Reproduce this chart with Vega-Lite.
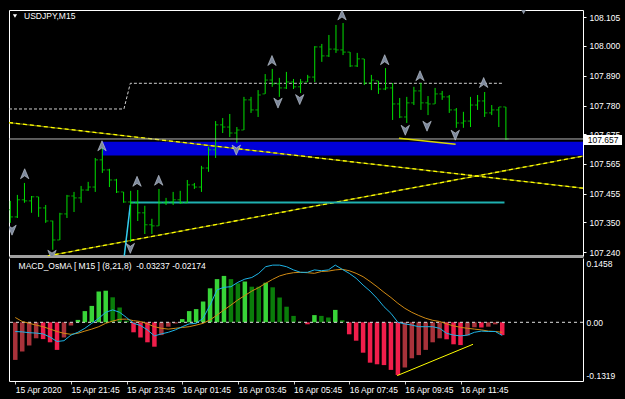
{
  "$schema": "https://vega.github.io/schema/vega-lite/v6.json",
  "background": "#000000",
  "padding": {"left": 7, "top": 10, "right": 12, "bottom": 8},
  "spacing": 2,
  "bounds": "flush",
  "config": {
    "view": {"stroke": null},
    "font": "Liberation Sans",
    "axis": {"grid": false, "title": null, "labelFont": "Liberation Sans", "labelFontSize": 8.5, "labelColor": "#ffffff", "domainColor": "#ffffff", "tickColor": "#ffffff"},
    "text": {"font": "Liberation Sans"}
  },
  "datasets": {
    "ohlc": [
      {"i":0,"o":107.396,"h":107.429,"l":107.348,"c":107.370},
      {"i":1,"o":107.370,"h":107.451,"l":107.366,"c":107.433},
      {"i":2,"o":107.433,"h":107.495,"l":107.422,"c":107.429},
      {"i":3,"o":107.429,"h":107.447,"l":107.385,"c":107.444},
      {"i":4,"o":107.444,"h":107.444,"l":107.370,"c":107.403},
      {"i":5,"o":107.403,"h":107.414,"l":107.348,"c":107.355},
      {"i":6,"o":107.355,"h":107.356,"l":107.249,"c":107.285},
      {"i":7,"o":107.285,"h":107.385,"l":107.285,"c":107.381},
      {"i":8,"o":107.381,"h":107.451,"l":107.366,"c":107.447},
      {"i":9,"o":107.447,"h":107.462,"l":107.388,"c":107.440},
      {"i":10,"o":107.440,"h":107.484,"l":107.422,"c":107.469},
      {"i":11,"o":107.469,"h":107.499,"l":107.466,"c":107.480},
      {"i":12,"o":107.480,"h":107.587,"l":107.462,"c":107.580},
      {"i":13,"o":107.580,"h":107.642,"l":107.532,"c":107.543},
      {"i":14,"o":107.543,"h":107.547,"l":107.480,"c":107.506},
      {"i":15,"o":107.506,"h":107.510,"l":107.458,"c":107.462},
      {"i":16,"o":107.462,"h":107.462,"l":107.422,"c":107.425},
      {"i":17,"o":107.425,"h":107.466,"l":107.278,"c":107.422},
      {"i":18,"o":107.422,"h":107.469,"l":107.355,"c":107.385},
      {"i":19,"o":107.385,"h":107.411,"l":107.307,"c":107.341},
      {"i":20,"o":107.341,"h":107.363,"l":107.307,"c":107.337},
      {"i":21,"o":107.337,"h":107.473,"l":107.337,"c":107.422},
      {"i":22,"o":107.422,"h":107.440,"l":107.414,"c":107.425},
      {"i":23,"o":107.425,"h":107.462,"l":107.414,"c":107.433},
      {"i":24,"o":107.433,"h":107.466,"l":107.418,"c":107.422},
      {"i":25,"o":107.422,"h":107.506,"l":107.422,"c":107.488},
      {"i":26,"o":107.488,"h":107.495,"l":107.473,"c":107.480},
      {"i":27,"o":107.480,"h":107.558,"l":107.462,"c":107.550},
      {"i":28,"o":107.550,"h":107.628,"l":107.536,"c":107.617},
      {"i":29,"o":107.617,"h":107.723,"l":107.587,"c":107.709},
      {"i":30,"o":107.709,"h":107.734,"l":107.679,"c":107.701},
      {"i":31,"o":107.701,"h":107.749,"l":107.664,"c":107.679},
      {"i":32,"o":107.679,"h":107.701,"l":107.642,"c":107.690},
      {"i":33,"o":107.690,"h":107.812,"l":107.690,"c":107.801},
      {"i":34,"o":107.801,"h":107.812,"l":107.753,"c":107.764},
      {"i":35,"o":107.764,"h":107.837,"l":107.738,"c":107.819},
      {"i":36,"o":107.823,"h":107.896,"l":107.823,"c":107.874},
      {"i":37,"o":107.874,"h":107.915,"l":107.849,"c":107.860},
      {"i":38,"o":107.860,"h":107.882,"l":107.812,"c":107.845},
      {"i":39,"o":107.845,"h":107.904,"l":107.841,"c":107.867},
      {"i":40,"o":107.867,"h":107.878,"l":107.841,"c":107.849},
      {"i":41,"o":107.849,"h":107.878,"l":107.826,"c":107.867},
      {"i":42,"o":107.867,"h":107.893,"l":107.867,"c":107.885},
      {"i":43,"o":107.885,"h":107.999,"l":107.867,"c":107.996},
      {"i":44,"o":107.996,"h":108.007,"l":107.941,"c":107.963},
      {"i":45,"o":107.963,"h":108.040,"l":107.959,"c":107.988},
      {"i":46,"o":107.988,"h":108.077,"l":107.974,"c":107.985},
      {"i":47,"o":107.985,"h":108.084,"l":107.966,"c":107.977},
      {"i":48,"o":107.977,"h":107.977,"l":107.922,"c":107.926},
      {"i":49,"o":107.926,"h":107.974,"l":107.922,"c":107.952},
      {"i":50,"o":107.952,"h":107.952,"l":107.856,"c":107.863},
      {"i":51,"o":107.863,"h":107.893,"l":107.837,"c":107.874},
      {"i":52,"o":107.871,"h":107.871,"l":107.823,"c":107.841},
      {"i":53,"o":107.841,"h":107.918,"l":107.837,"c":107.845},
      {"i":54,"o":107.845,"h":107.863,"l":107.727,"c":107.786},
      {"i":55,"o":107.786,"h":107.808,"l":107.734,"c":107.738},
      {"i":56,"o":107.738,"h":107.812,"l":107.716,"c":107.790},
      {"i":57,"o":107.790,"h":107.849,"l":107.782,"c":107.834},
      {"i":58,"o":107.834,"h":107.863,"l":107.764,"c":107.790},
      {"i":59,"o":107.790,"h":107.815,"l":107.745,"c":107.786},
      {"i":60,"o":107.786,"h":107.845,"l":107.786,"c":107.823},
      {"i":61,"o":107.823,"h":107.834,"l":107.801,"c":107.812},
      {"i":62,"o":107.812,"h":107.819,"l":107.753,"c":107.764},
      {"i":63,"o":107.764,"h":107.771,"l":107.698,"c":107.716},
      {"i":64,"o":107.716,"h":107.757,"l":107.698,"c":107.723},
      {"i":65,"o":107.723,"h":107.812,"l":107.701,"c":107.782},
      {"i":66,"o":107.782,"h":107.819,"l":107.764,"c":107.797},
      {"i":67,"o":107.797,"h":107.830,"l":107.738,"c":107.753},
      {"i":68,"o":107.753,"h":107.782,"l":107.745,"c":107.764},
      {"i":69,"o":107.764,"h":107.775,"l":107.701,"c":107.775},
      {"i":70,"o":107.775,"h":107.775,"l":107.653,"c":107.657}
    ],
    "macd": [
      {"i":0,"h":-0.094,"k":"dnw","m":-0.023,"s":0.012},
      {"i":1,"h":-0.073,"k":"dnw","m":-0.024,"s":0.002},
      {"i":2,"h":-0.058,"k":"dnw","m":-0.026,"s":-0.0025},
      {"i":3,"h":-0.040,"k":"dnw","m":-0.027,"s":-0.007},
      {"i":4,"h":-0.042,"k":"dn","m":-0.029,"s":-0.011},
      {"i":5,"h":-0.050,"k":"dn","m":-0.037,"s":-0.017},
      {"i":6,"h":-0.069,"k":"dn","m":-0.048,"s":-0.023},
      {"i":7,"h":-0.038,"k":"dnw","m":-0.046,"s":-0.0275},
      {"i":8,"h":-0.008,"k":"dnw","m":-0.032,"s":-0.030},
      {"i":9,"h":0.006,"k":"up","m":-0.025,"s":-0.0275},
      {"i":10,"h":0.028,"k":"up","m":-0.015,"s":-0.022},
      {"i":11,"h":0.041,"k":"up","m":-0.0025,"s":-0.017},
      {"i":12,"h":0.077,"k":"up","m":0.010,"s":-0.011},
      {"i":13,"h":0.079,"k":"up","m":0.025,"s":-0.0025},
      {"i":14,"h":0.0625,"k":"upw","m":0.031,"s":0.003},
      {"i":15,"h":0.037,"k":"upw","m":0.025,"s":0.0075},
      {"i":16,"h":0.004,"k":"upw","m":0.012,"s":0.008},
      {"i":17,"h":-0.025,"k":"dn","m":-0.0025,"s":0.004},
      {"i":18,"h":-0.038,"k":"dn","m":-0.008,"s":0.002},
      {"i":19,"h":-0.050,"k":"dn","m":-0.019,"s":-0.004},
      {"i":20,"h":-0.061,"k":"dn","m":-0.034,"s":-0.011},
      {"i":21,"h":-0.032,"k":"dnw","m":-0.029,"s":-0.015},
      {"i":22,"h":-0.011,"k":"dnw","m":-0.025,"s":-0.017},
      {"i":23,"h":-0.003,"k":"dnw","m":-0.019,"s":-0.015},
      {"i":24,"h":0.008,"k":"up","m":-0.011,"s":-0.013},
      {"i":25,"h":0.028,"k":"up","m":-0.004,"s":-0.011},
      {"i":26,"h":0.033,"k":"up","m":-0.0025,"s":-0.007},
      {"i":27,"h":0.052,"k":"up","m":0.010,"s":-0.0025},
      {"i":28,"h":0.085,"k":"up","m":0.043,"s":0.006},
      {"i":29,"h":0.108,"k":"up","m":0.081,"s":0.018},
      {"i":30,"h":0.116,"k":"up","m":0.0875,"s":0.031},
      {"i":31,"h":0.108,"k":"upw","m":0.089,"s":0.043},
      {"i":32,"h":0.0975,"k":"upw","m":0.100,"s":0.056},
      {"i":33,"h":0.102,"k":"up","m":0.108,"s":0.067},
      {"i":34,"h":0.089,"k":"upw","m":0.112,"s":0.078},
      {"i":35,"h":0.089,"k":"upw","m":0.1225,"s":0.087},
      {"i":36,"h":0.099,"k":"up","m":0.139,"s":0.0975},
      {"i":37,"h":0.0875,"k":"upw","m":0.143,"s":0.1075},
      {"i":38,"h":0.062,"k":"upw","m":0.143,"s":0.116},
      {"i":39,"h":0.039,"k":"upw","m":0.139,"s":0.121},
      {"i":40,"h":0.016,"k":"upw","m":0.131,"s":0.124},
      {"i":41,"h":0.002,"k":"upw","m":0.125,"s":0.125},
      {"i":42,"h":-0.005,"k":"dn","m":0.125,"s":0.124},
      {"i":43,"h":0.018,"k":"up","m":0.131,"s":0.1225},
      {"i":44,"h":0.016,"k":"upw","m":0.129,"s":0.127},
      {"i":45,"h":0.012,"k":"upw","m":0.131,"s":0.128},
      {"i":46,"h":0.031,"k":"up","m":0.143,"s":0.131},
      {"i":47,"h":0.005,"k":"upw","m":0.1325,"s":0.1325},
      {"i":48,"h":-0.030,"k":"dn","m":0.1225,"s":0.129},
      {"i":49,"h":-0.046,"k":"dn","m":0.110,"s":0.1225},
      {"i":50,"h":-0.076,"k":"dn","m":0.093,"s":0.114},
      {"i":51,"h":-0.101,"k":"dn","m":0.078,"s":0.102},
      {"i":52,"h":-0.105,"k":"dn","m":0.060,"s":0.089},
      {"i":53,"h":-0.107,"k":"dn","m":0.039,"s":0.075},
      {"i":54,"h":-0.119,"k":"dn","m":0.0225,"s":0.062},
      {"i":55,"h":-0.132,"k":"dn","m":0.000,"s":0.0475},
      {"i":56,"h":-0.113,"k":"dnw","m":-0.004,"s":0.035},
      {"i":57,"h":-0.090,"k":"dnw","m":-0.007,"s":0.025},
      {"i":58,"h":-0.082,"k":"dnw","m":-0.011,"s":0.017},
      {"i":59,"h":-0.069,"k":"dnw","m":-0.011,"s":0.010},
      {"i":60,"h":-0.050,"k":"dnw","m":-0.011,"s":0.005},
      {"i":61,"h":-0.040,"k":"dnw","m":-0.015,"s":0.002},
      {"i":62,"h":-0.0425,"k":"dn","m":-0.0275,"s":-0.004},
      {"i":63,"h":-0.055,"k":"dn","m":-0.032,"s":-0.009},
      {"i":64,"h":-0.057,"k":"dn","m":-0.034,"s":-0.0125},
      {"i":65,"h":-0.033,"k":"dnw","m":-0.032,"s":-0.015},
      {"i":66,"h":-0.0125,"k":"dnw","m":-0.025,"s":-0.017},
      {"i":67,"h":-0.013,"k":"dn","m":-0.022,"s":-0.019},
      {"i":68,"h":-0.011,"k":"dnw","m":-0.023,"s":-0.022},
      {"i":69,"h":-0.005,"k":"dnw","m":-0.023,"s":-0.023},
      {"i":70,"h":-0.032,"k":"dn","m":-0.033,"s":-0.025}
    ],
    "fractals": [
      {"i":2.03,"p":107.528,"d":"up"},
      {"i":12.95,"p":107.631,"d":"up"},
      {"i":17.9,"p":107.500,"d":"up"},
      {"i":20.96,"p":107.504,"d":"up"},
      {"i":36.96,"p":107.945,"d":"up"},
      {"i":46.85,"p":108.113,"d":"up"},
      {"i":52.88,"p":107.948,"d":"up"},
      {"i":57.87,"p":107.889,"d":"up"},
      {"i":66.86,"p":107.864,"d":"up"},
      {"i":0.24,"p":107.322,"d":"down"},
      {"i":5.89,"p":107.230,"d":"down"},
      {"i":16.95,"p":107.255,"d":"down"},
      {"i":31.92,"p":107.617,"d":"down"},
      {"i":37.81,"p":107.790,"d":"down"},
      {"i":40.88,"p":107.803,"d":"down"},
      {"i":55.79,"p":107.690,"d":"down"},
      {"i":58.86,"p":107.705,"d":"down"},
      {"i":62.85,"p":107.672,"d":"down"}
    ],
    "ydots": [
      {"g":"a","i":-0.184,"p":107.7175},
      {"g":"a","i":80.89,"p":107.4757},
      {"g":"b","i":5.3,"p":107.2265},
      {"g":"b","i":80.89,"p":107.5938}
    ],
    "step": [
      {"i":-0.184,"p":107.7675},
      {"i":16.05,"p":107.7675},
      {"i":16.95,"p":107.8621},
      {"i":69.7,"p":107.8621}
    ]
  },
  "vconcat": [
    {
      "width": 574,
      "height": 246,
      "layer": [
        {
          "layer": [
            {
              "data": {"values": [{"a": 12.95, "b": 80.89, "lo": 107.596, "hi": 107.647}]},
              "mark": {"type": "rect", "color": "#0000d8", "clip": true},
              "encoding": {
                "x": {"field": "a", "type": "quantitative", "scale": {"domain": [-0.184, 80.89], "nice": false, "zero": false},
                      "axis": {"orient": "bottom", "labels": false, "ticks": false, "domainColor": "#a0a0a0", "domainWidth": 3}},
                "x2": {"field": "b"},
                "y": {"field": "lo", "type": "quantitative", "scale": {"domain": [107.226, 108.132], "nice": false, "zero": false},
                      "axis": {"orient": "right", "values": [107.24, 107.35, 107.455, 107.565, 107.675, 107.78, 107.89, 108.0, 108.105], "tickCount": 30, "format": ".3f", "labelOverlap": false, "tickSize": 3, "labelPadding": 3, "labelColor": "#ffffff", "domainColor": "#ffffff", "tickColor": "#ffffff"}},
                "y2": {"field": "hi"}
              }
            },
            {
              "data": {"name": "step"},
              "mark": {"type": "line", "color": "#d0d0d0", "strokeWidth": 1, "strokeDash": [3, 2], "clip": true},
              "encoding": {"x": {"field": "i", "type": "quantitative"}, "y": {"field": "p", "type": "quantitative"}}
            },
            {
              "data": {"name": "ydots"},
              "mark": {"type": "line", "color": "#707000", "strokeWidth": 1.3, "clip": true},
              "encoding": {"x": {"field": "i", "type": "quantitative"}, "y": {"field": "p", "type": "quantitative"}, "detail": {"field": "g"}}
            },
            {
              "data": {"name": "ydots"},
              "mark": {"type": "line", "color": "#ffff00", "strokeWidth": 1.3, "strokeDash": [4, 3], "clip": true},
              "encoding": {"x": {"field": "i", "type": "quantitative"}, "y": {"field": "p", "type": "quantitative"}, "detail": {"field": "g"}}
            },
            {
              "data": {"values": [{"i": 16.95, "p": 107.4226}, {"i": 69.8, "p": 107.4226}]},
              "mark": {"type": "line", "color": "#1fb0b0", "strokeWidth": 2, "clip": true},
              "encoding": {"x": {"field": "i", "type": "quantitative"}, "y": {"field": "p", "type": "quantitative"}}
            },
            {
              "data": {"values": [{"i": 16.1, "p": 107.2265}, {"i": 16.95, "p": 107.414}]},
              "mark": {"type": "line", "color": "#33ccee", "strokeWidth": 1.5, "clip": true},
              "encoding": {"x": {"field": "i", "type": "quantitative"}, "y": {"field": "p", "type": "quantitative"}}
            },
            {
              "data": {"name": "ohlc"},
              "mark": {"type": "rule", "color": "#00e000", "strokeWidth": 1, "clip": true},
              "encoding": {"x": {"field": "i", "type": "quantitative"}, "y": {"field": "l", "type": "quantitative"}, "y2": {"field": "h"}}
            },
            {
              "data": {"name": "ohlc"},
              "mark": {"type": "tick", "orient": "horizontal", "color": "#00e000", "size": 2.5, "thickness": 1, "xOffset": -1.5, "clip": true},
              "encoding": {"x": {"field": "i", "type": "quantitative"}, "y": {"field": "o", "type": "quantitative"}}
            },
            {
              "data": {"name": "ohlc"},
              "mark": {"type": "tick", "orient": "horizontal", "color": "#00e000", "size": 2.5, "thickness": 1, "xOffset": 1.5, "clip": true},
              "encoding": {"x": {"field": "i", "type": "quantitative"}, "y": {"field": "c", "type": "quantitative"}}
            },
            {
              "data": {"values": [{"p": 107.657}]},
              "mark": {"type": "rule", "color": "#b4b4b4", "strokeWidth": 1},
              "encoding": {"y": {"field": "p", "type": "quantitative"}}
            },
            {
              "data": {"values": [{"i": 54.9, "p": 107.6597}, {"i": 62.9, "p": 107.6376}]},
              "mark": {"type": "line", "color": "#d8d800", "strokeWidth": 1.5, "clip": true},
              "encoding": {"x": {"field": "i", "type": "quantitative"}, "y": {"field": "p", "type": "quantitative"}}
            },
            {
              "data": {"name": "fractals"},
              "mark": {"type": "point", "filled": true, "size": 110, "color": "#7d889b", "stroke": "#c8d0dc", "strokeWidth": 0.6, "opacity": 1, "clip": true},
              "encoding": {
                "x": {"field": "i", "type": "quantitative"},
                "y": {"field": "p", "type": "quantitative"},
                "shape": {"field": "d", "type": "nominal", "scale": {"domain": ["up", "down"], "range": ["M0,-1L0.8,0.9L0,0.35L-0.8,0.9Z", "M0,1L0.8,-0.9L0,-0.35L-0.8,-0.9Z"]}, "legend": null}
              }
            },
            {
              "data": {"values": [{"i": 72.5, "p": 108.126}]},
              "mark": {"type": "point", "shape": "triangle-down", "filled": true, "size": 35, "color": "#8a94a4", "opacity": 1, "clip": true},
              "encoding": {"x": {"field": "i", "type": "quantitative"}, "y": {"field": "p", "type": "quantitative"}}
            },
            {
              "data": {"values": [{"i": 0.66, "p": 108.110}]},
              "mark": {"type": "point", "shape": "triangle-down", "filled": true, "size": 18, "color": "#ffffff", "opacity": 1},
              "encoding": {"x": {"field": "i", "type": "quantitative"}, "y": {"field": "p", "type": "quantitative"}}
            },
            {
              "data": {"values": [{"i": 1.94, "p": 108.110, "t": "USDJPY,M15"}]},
              "mark": {"type": "text", "align": "left", "baseline": "middle", "color": "#ffffff", "fontSize": 8.5, "font": "Liberation Sans"},
              "encoding": {"x": {"field": "i", "type": "quantitative"}, "y": {"field": "p", "type": "quantitative"}, "text": {"field": "t"}}
            },
            {
              "data": {"values": [{"a": 81.0, "b": 86.4, "lo": 107.635, "hi": 107.672}]},
              "mark": {"type": "rect", "color": "#ffffff"},
              "encoding": {"x": {"field": "a", "type": "quantitative"}, "x2": {"field": "b"}, "y": {"field": "lo", "type": "quantitative"}, "y2": {"field": "hi"}}
            },
            {
              "data": {"values": [{"i": 81.55, "p": 107.6535, "t": "107.657"}]},
              "mark": {"type": "text", "align": "left", "baseline": "middle", "color": "#000000", "fontSize": 8.5, "font": "Liberation Sans"},
              "encoding": {"x": {"field": "i", "type": "quantitative"}, "y": {"field": "p", "type": "quantitative"}, "text": {"field": "t"}}
            }
          ]
        },
        {
          "data": {"values": [{"i": 0, "p": 107.5}]},
          "mark": {"type": "point", "opacity": 0},
          "encoding": {
            "x": {"field": "i", "type": "quantitative", "scale": {"domain": [-0.184, 80.89], "nice": false, "zero": false}, "axis": {"orient": "top", "labels": false, "ticks": false, "domainColor": "#ffffff"}},
            "y": {"field": "p", "type": "quantitative", "scale": {"domain": [107.226, 108.132], "nice": false, "zero": false}, "axis": {"orient": "left", "labels": false, "ticks": false, "domainColor": "#ffffff"}}
          }
        }
      ],
      "resolve": {"axis": {"x": "independent", "y": "independent"}}
    },
    {
      "width": 574,
      "height": 123,
      "layer": [
        {
          "layer": [
            {
              "data": {"name": "macd"},
              "mark": {"type": "bar", "width": 4.5},
              "encoding": {
                "x": {"field": "i", "type": "quantitative", "scale": {"domain": [-0.184, 80.89], "nice": false, "zero": false},
                      "axis": {"orient": "bottom", "values": [0, 8, 16, 24, 32, 40, 48, 56, 64], "tickCount": 30,
                               "labelExpr": "['15 Apr 2020','15 Apr 21:45','15 Apr 23:45','16 Apr 01:45','16 Apr 03:45','16 Apr 05:45','16 Apr 07:45','16 Apr 09:45','16 Apr 11:45'][round(datum.value/8)]",
                               "labelAlign": "left", "labelFlush": false, "labelOverlap": false, "labelBound": false, "tickSize": 3, "tickColor": "#c8c8c8", "labelPadding": 1, "domainColor": "#ffffff", "labelColor": "#ffffff"}},
                "y": {"field": "h", "type": "quantitative", "scale": {"domain": [-0.1468, 0.1608], "nice": false, "zero": false},
                      "axis": {"orient": "right", "values": [0.1458, 0, -0.1319], "tickCount": 10, "labelExpr": "datum.value == 0 ? '0.00' : (datum.value > 0 ? '0.1458' : '-0.1319')", "labelOverlap": false, "ticks": false, "labelPadding": 3, "domainColor": "#ffffff", "labelColor": "#ffffff"}},
                "y2": {"datum": 0},
                "color": {"field": "k", "type": "nominal", "scale": {"domain": ["up", "upw", "dn", "dnw"], "range": ["#38d438", "#0a7d0a", "#f01e4b", "#a8323a"]}, "legend": null}
              }
            },
            {
              "data": {"values": [{"z": 0}]},
              "mark": {"type": "rule", "color": "#e0e0e0", "strokeWidth": 1, "strokeDash": [3, 3]},
              "encoding": {"y": {"field": "z", "type": "quantitative"}}
            },
            {
              "data": {"name": "macd"},
              "mark": {"type": "line", "color": "#d08a14", "strokeWidth": 1},
              "encoding": {"x": {"field": "i", "type": "quantitative"}, "y": {"field": "s", "type": "quantitative"}}
            },
            {
              "data": {"name": "macd"},
              "mark": {"type": "line", "color": "#1eb4e6", "strokeWidth": 1},
              "encoding": {"x": {"field": "i", "type": "quantitative"}, "y": {"field": "m", "type": "quantitative"}}
            },
            {
              "data": {"values": [{"i": 54.9, "v": -0.1333}, {"i": 65.8, "v": -0.055}]},
              "mark": {"type": "line", "color": "#ffff00", "strokeWidth": 1},
              "encoding": {"x": {"field": "i", "type": "quantitative"}, "y": {"field": "v", "type": "quantitative"}}
            },
            {
              "data": {"values": [{"i": 0.48, "v": 0.1408, "t": "MACD_OsMA [ M15 ] (8,21,8)\u00a0 -0.03237 -0.02174"}]},
              "mark": {"type": "text", "align": "left", "baseline": "middle", "color": "#ffffff", "fontSize": 8.5, "font": "Liberation Sans"},
              "encoding": {"x": {"field": "i", "type": "quantitative"}, "y": {"field": "v", "type": "quantitative"}, "text": {"field": "t"}}
            }
          ]
        },
        {
          "data": {"values": [{"i": 0, "v": 0}]},
          "mark": {"type": "point", "opacity": 0},
          "encoding": {
            "x": {"field": "i", "type": "quantitative", "scale": {"domain": [-0.184, 80.89], "nice": false, "zero": false}, "axis": null},
            "y": {"field": "v", "type": "quantitative", "scale": {"domain": [-0.1468, 0.1608], "nice": false, "zero": false}, "axis": {"orient": "left", "labels": false, "ticks": false, "domainColor": "#ffffff"}}
          }
        }
      ],
      "resolve": {"axis": {"x": "independent", "y": "independent"}}
    }
  ]
}
